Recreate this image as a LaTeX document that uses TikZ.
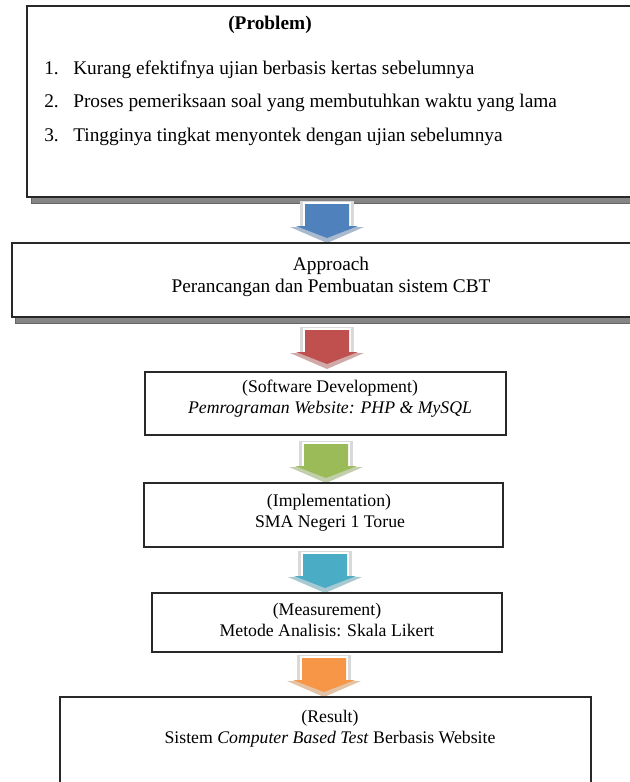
\documentclass[tikz,border=0pt]{standalone}
\usepackage{fontspec}
\setmainfont{Liberation Serif}
\usetikzlibrary{fit}
\definecolor{arBlue}{HTML}{4F81BD}
\definecolor{arRed}{HTML}{C0504D}
\definecolor{arGreen}{HTML}{9BBB59}
\definecolor{arCyan}{HTML}{4BACC6}
\definecolor{arOrange}{HTML}{F79646}
\definecolor{shadowgray}{HTML}{858585}
\definecolor{rimgray}{HTML}{D9D9D9}
\newcommand{\blockarr}[4]{% name, cx, top, colour
  \begin{scope}[shift={(#2,#3)}]
    \fill[#4!35!rimgray] (-37,26) -- (37,26) -- (0,42) -- cycle;
    \fill[rimgray] (-27,0) -- (27,0) -- (27,27) -- (-27,27) -- cycle;
    \fill[white] (-24,1) -- (24,1) -- (24,27) -- (-24,27) -- cycle;
    \fill[#4] (-22,3) -- (22,3) -- (22,25) -- (31,25) -- (0,37) -- (-31,25) -- (-22,25) -- cycle;
    \coordinate (#1) at (0,20);
  \end{scope}}
\tikzset{
  boxst/.style={draw={rgb,255:red,40;green,40;blue,40}, line width=0.9pt, fill=white, inner sep=0pt},
  shadowst/.style={fill=shadowgray, draw=gray!80!black, line width=0.5pt},
  txt/.style={inner sep=0pt, anchor=base, font=\fontsize{14.5}{17}\selectfont},
  stxt/.style={inner sep=0pt, anchor=base, font=\fontsize{13.3}{16}\selectfont},
  ltxt/.style={inner sep=0pt, anchor=base west, font=\fontsize{14.5}{17}\selectfont},
}
\begin{document}
\begin{tikzpicture}[x=0.75pt,y=-0.75pt]
\useasboundingbox (0,0) rectangle (630,782);
\fill[white] (0,0) rectangle (630,782);
% Box 1 (Problem)
\fill[shadowst] (31,10) rectangle (650,203);
\node[boxst, line width=1.1pt, fit={(27,6) (646,197)}] (b1) {};
\node[txt, font=\fontsize{14.5}{17}\selectfont\bfseries] (t1) at (270,29) {(Problem)};
\node[ltxt] (n1) at (44,74) {1.};
\node[ltxt] (l1) at (73,74) {Kurang efektifnya ujian berbasis kertas sebelumnya};
\node[ltxt] (n2) at (44,107) {2.};
\node[ltxt] (l2) at (73,107) {Proses pemeriksaan soal yang membutuhkan waktu yang lama};
\node[ltxt] (n3) at (44,141) {3.};
\node[ltxt] (l3) at (73,141) {Tingginya tingkat menyontek dengan ujian sebelumnya};
% Arrow 1
\blockarr{a1}{327}{201}{arBlue}
% Box 2 (Approach)
\fill[shadowst] (15,247) rectangle (650,323);
\node[boxst, fit={(12,243) (646,317)}] (b2) {};
\node[txt] (t2a) at (331,270) {Approach};
\node[txt] (t2b) at (331,292) {Perancangan dan Pembuatan sistem CBT};
% Arrow 2
\blockarr{a2}{327}{327}{arRed}
% Box 3
\node[boxst, fit={(145,372) (506,435)}] (b3) {};
\node[stxt] (t3a) at (330,392) {(Software Development)};
\node[stxt] (t3b) at (330,413) {\itshape Pemrograman Website: PHP \& MySQL};
% Arrow 3
\blockarr{a3}{326}{441}{arGreen}
% Box 4
\node[boxst, fit={(144,483) (503,547)}] (b4) {};
\node[stxt] (t4a) at (329,506) {(Implementation)};
\node[stxt] (t4b) at (330,527) {SMA Negeri 1 Torue};
% Arrow 4
\blockarr{a4}{325}{551}{arCyan}
% Box 5
\node[boxst, fit={(152,593) (502,652)}] (b5) {};
\node[stxt] (t5a) at (327,615) {(Measurement)};
\node[stxt] (t5b) at (327,636) {Metode Analisis: Skala Likert};
% Arrow 5
\blockarr{a5}{324}{655}{arOrange}
% Box 6
\node[boxst, fit={(60,697) (591,800)}] (b6) {};
\node[stxt] (t6a) at (330,722) {(Result)};
\node[stxt] (t6b) at (330,743) {Sistem \textit{Computer Based Test} Berbasis Website};
\end{tikzpicture}
\end{document}
